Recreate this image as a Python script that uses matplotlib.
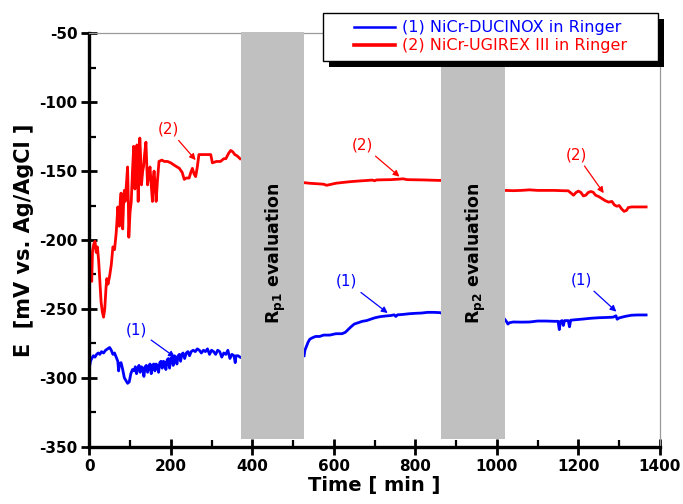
import matplotlib
matplotlib.use("Agg")
import matplotlib.pyplot as plt
from matplotlib.patches import Rectangle
from matplotlib.lines import Line2D
from matplotlib.ticker import MultipleLocator

plt.rcParams["axes.unicode_minus"] = False

# (1) NiCr-DUCINOX, three measurement periods
t1_a = [0, 3, 6, 10, 14, 18, 22, 26, 30, 35, 40, 45, 50, 54, 58, 62, 66, 70, 72, 74,
        78, 82, 86, 90, 94, 98, 102, 106, 110, 113, 116, 119, 122, 125, 128, 131, 134,
        137, 140, 143, 146, 149, 152, 155, 158, 161, 164, 167, 170, 173, 176, 179, 182,
        185, 188, 191, 194, 197, 200, 203, 206, 209, 212, 215, 218, 221, 224, 227, 230,
        234, 238, 242, 246, 250, 255, 260, 265, 270, 275, 280, 285, 290, 295, 300, 305,
        310, 315, 320, 325, 330, 335, 340, 345, 350, 355, 358, 360, 365, 370]
e1_a = [-293, -288, -286, -284, -285, -283, -282, -283, -281, -282, -280, -279, -278,
        -280, -283, -282, -285, -288, -295, -290, -289, -294, -300, -302, -304, -303,
        -297, -294, -295, -292, -297, -293, -291, -296, -292, -293, -299, -292, -291,
        -296, -292, -290, -297, -291, -290, -295, -290, -291, -296, -289, -288, -293,
        -288, -289, -294, -287, -286, -293, -286, -285, -291, -284, -285, -290, -284,
        -283, -288, -283, -282, -286, -282, -281, -284, -281, -280, -281, -279, -280,
        -282, -280, -281, -279, -283, -280, -281, -283, -280, -281, -285, -282, -283,
        -280, -286, -283, -284, -289, -284, -284, -285]
t1_b = [527, 529, 533, 537, 541, 547, 555, 565, 575, 590, 605, 620, 628, 635, 642, 650,
        660, 670, 680, 690, 700, 712, 725, 740, 748, 752, 756, 770, 785, 800, 815, 830,
        845, 860, 863]
e1_b = [-284, -280, -277, -274, -272, -271, -270, -270, -269, -269, -268, -268, -267,
        -265, -263, -261, -260, -259, -258.5, -257.5, -256.5, -255.7, -255.2, -254.8,
        -254.3, -255.5, -254.3, -254, -253.5, -253.2, -253, -252.5, -252.5, -252.7, -253]
t1_c = [1019, 1023, 1027, 1031, 1040, 1060, 1080, 1100, 1120, 1140, 1150, 1153, 1156,
        1160, 1163, 1166, 1175, 1178, 1181, 1195, 1210, 1230, 1250, 1270, 1285, 1292,
        1295, 1300, 1315, 1330, 1345, 1366]
e1_c = [-257.5, -259, -261, -260, -259.5, -259.6, -259.5, -258.8, -258.8, -259, -259,
        -265, -259, -258.5, -262, -258.5, -258.5, -263, -258.2, -257.8, -257.4, -256.8,
        -256.4, -256.2, -256, -255, -257.5, -256.5, -255.4, -254.6, -254.4, -254.4]

# (2) NiCr-UGIREX III
t2_a = [0, 2, 4, 6, 8, 11, 14, 17, 20, 23, 26, 29, 32, 35, 38, 41, 43, 46, 50, 54, 58,
        62, 66, 68, 70, 72, 74, 76, 78, 80, 82, 84, 86, 88, 91, 94, 96, 97, 100, 103,
        106, 109, 112, 114, 117, 120, 122, 124, 126, 128, 131, 133, 136, 139, 141, 143,
        146, 149, 152, 155, 157, 159, 162, 164, 167, 171, 178, 184, 192, 200, 210, 221,
        228, 233, 238, 245, 249, 253, 257, 261, 265, 269, 280, 290, 298, 302, 312, 322,
        330, 335, 342, 347, 352, 357, 363, 370]
e2_a = [-215, -226, -212, -230, -208, -203, -201, -209, -205, -215, -230, -245, -252,
        -256, -250, -235, -228, -232, -226, -218, -205, -207, -195, -186, -176, -185,
        -190, -172, -166, -180, -192, -175, -164, -172, -160, -147, -175, -198, -180,
        -172, -150, -132, -163, -150, -131, -172, -145, -126, -140, -160, -150, -147,
        -137, -129, -145, -160, -152, -147, -160, -172, -155, -150, -162, -172, -158,
        -143, -142, -143, -143, -144, -146, -148, -151, -156, -155, -155, -151, -148,
        -152, -154, -147, -138, -138, -138, -138, -144, -143, -143, -141, -141, -137,
        -135, -136, -138, -139, -141]
t2_b = [527, 540, 560, 575, 582, 590, 605, 620, 639, 660, 680, 694, 700, 705, 720, 740,
        761, 770, 780, 800, 820, 840, 863]
e2_b = [-158.4, -158.8, -159.2, -159.5, -160.3, -159.8, -158.8, -158.3, -157.7, -157.2,
        -156.8, -156.5, -157, -156.4, -156.3, -156.2, -155.8, -155.6, -156.2, -156.3,
        -156.4, -156.6, -156.8]
t2_c = [1019, 1040, 1060, 1080, 1100, 1120, 1140, 1160, 1175, 1182, 1188, 1194, 1200,
        1206, 1212, 1218, 1224, 1230, 1236, 1242, 1250, 1258, 1266, 1274, 1282, 1288,
        1294, 1300, 1306, 1312, 1318, 1322, 1330, 1345, 1360, 1366]
e2_c = [-164, -164.2, -164, -163.6, -164, -164, -164, -164.2, -164.3, -166, -167.5,
        -165.5, -164.5, -165.5, -168, -167.5, -165.5, -164.8, -165.3, -167.5, -168.5,
        -170, -171.5, -172.5, -172, -174.5, -175.5, -175, -177.5, -179.2, -178.5,
        -176.5, -176, -176, -176, -176]

# Rp evaluation windows (start, end) in min
rp_windows = [(372, 527), (864, 1019)]
rp_labels = ["R$_{\\mathbf{p1}}$ evaluation", "R$_{\\mathbf{p2}}$ evaluation"]

fig = plt.figure(figsize=(6.83, 5.04), dpi=100)
ax = fig.add_axes([0.1307, 0.1137, 0.8356, 0.8202])

blue = "#0000ff"
red = "#ff0000"

for t, e in [(t1_a, e1_a), (t1_b, e1_b), (t1_c, e1_c)]:
    ax.plot(t, e, color=blue, lw=2.0, zorder=2)
for t, e in [(t2_a, e2_a), (t2_b, e2_b), (t2_c, e2_c)]:
    ax.plot(t, e, color=red, lw=2.0, zorder=2)

# gray boxes
for (a, b), lab in zip(rp_windows, rp_labels):
    ax.add_patch(Rectangle((a, -344.6), b - a, 295.8, facecolor="#c0c0c0",
                           edgecolor="none", zorder=3, clip_on=False))
    ax.text((a + b) / 2 + 8, -210, lab, rotation=90, ha="center", va="center",
            fontsize=12.5, fontweight="bold", zorder=4)

# arrows
arr_b = dict(arrowstyle="-|>", color=blue, lw=0.9, mutation_scale=9, shrinkA=1, shrinkB=0)
arr_r = dict(arrowstyle="-|>", color=red, lw=0.9, mutation_scale=9, shrinkA=1, shrinkB=0)
ax.annotate("(2)", xy=(261, -142), xytext=(195, -119.5), color=red, fontsize=11,
            ha="center", va="center", arrowprops=arr_r)
ax.annotate("(2)", xy=(761, -154), xytext=(670, -131), color=red, fontsize=11,
            ha="center", va="center", arrowprops=arr_r)
ax.annotate("(2)", xy=(1262, -166), xytext=(1195, -138), color=red, fontsize=11,
            ha="center", va="center", arrowprops=arr_r)
ax.annotate("(1)", xy=(210, -285), xytext=(116, -265), color=blue, fontsize=11,
            ha="center", va="center", arrowprops=arr_b)
ax.annotate("(1)", xy=(732, -253), xytext=(631, -230), color=blue, fontsize=11,
            ha="center", va="center", arrowprops=arr_b)
ax.annotate("(1)", xy=(1293, -252), xytext=(1208, -229), color=blue, fontsize=11,
            ha="center", va="center", arrowprops=arr_b)

ax.set_xlim(0, 1400)
ax.set_ylim(-350, -50)
ax.xaxis.set_major_locator(MultipleLocator(200))
ax.xaxis.set_minor_locator(MultipleLocator(100))
ax.yaxis.set_major_locator(MultipleLocator(50))
ax.yaxis.set_minor_locator(MultipleLocator(25))
ax.tick_params(which="major", direction="inout", length=11, width=2, labelsize=11, pad=3)
ax.tick_params(which="minor", direction="in", length=5, width=1.6)
for lab in ax.get_xticklabels() + ax.get_yticklabels():
    lab.set_fontweight("bold")

for s in ["left", "bottom"]:
    ax.spines[s].set_linewidth(2.4)
    ax.spines[s].set_color("black")
for s in ["top", "right"]:
    ax.spines[s].set_linewidth(0.9)
    ax.spines[s].set_color("#999999")

ax.set_xlabel("Time [ min ]", fontsize=14, fontweight="bold", labelpad=2)
ax.set_ylabel("E  [mV vs. Ag/AgCl ]", fontsize=15, fontweight="bold")
ax.yaxis.set_label_coords(-0.097, 0.5)

# legend box with shadow
bx, by, bw, bh = 322.7 / 683, 1 - 61 / 504, 335 / 683, 48.3 / 504
fig.patches.append(Rectangle((bx + 6 / 683, by - 6 / 504), bw, bh, transform=fig.transFigure,
                             facecolor="black", edgecolor="none", zorder=4))
fig.patches.append(Rectangle((bx, by), bw, bh, transform=fig.transFigure,
                             facecolor="white", edgecolor="black", lw=1, zorder=4.5))
handles = [Line2D([], [], color=blue, lw=1.8), Line2D([], [], color=red, lw=2.6)]
leg = fig.legend(handles, ["(1) NiCr-DUCINOX in Ringer", "(2) NiCr-UGIREX III in Ringer"],
                 loc="center", bbox_to_anchor=(bx + bw / 2, by + bh / 2),
                 frameon=False, fontsize=11.5, handlelength=2.6, handletextpad=0.4,
                 labelspacing=0.2, borderpad=0.2)
leg.set_zorder(5)
for txt, c in zip(leg.get_texts(), [blue, red]):
    txt.set_color(c)

plt.savefig("out.png", dpi=100)
